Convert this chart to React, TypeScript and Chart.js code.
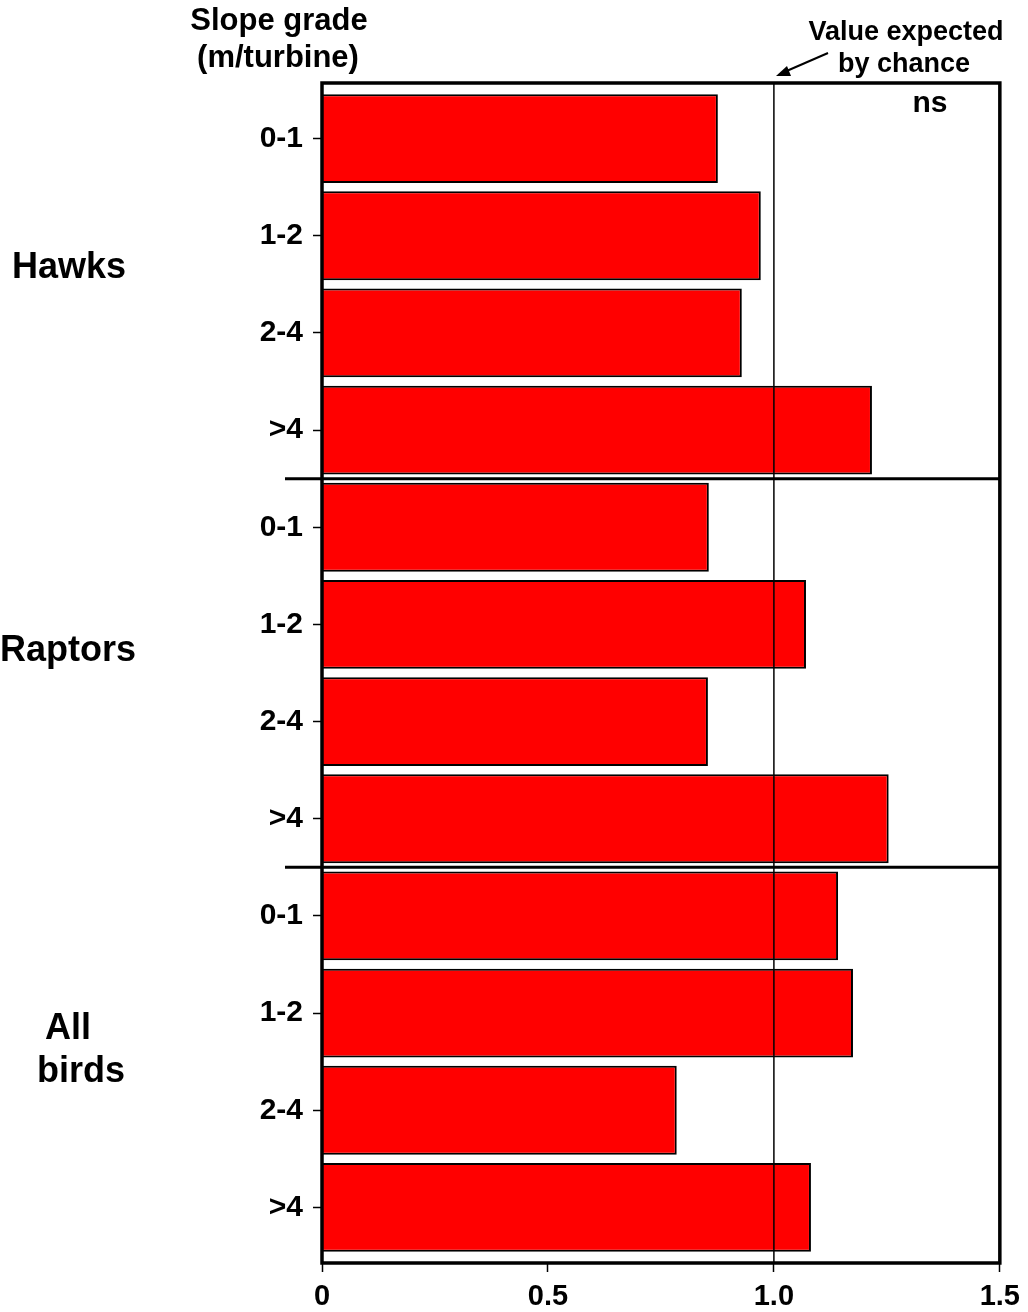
import React, { useEffect, useRef } from "react";
import { Chart, registerables } from "chart.js";

Chart.register(...registerables);

const slopeClasses = ["0-1", "1-2", "2-4", ">4"];
const groupNames = ["Hawks", "Raptors", "All birds"];
const hawks = [0.876, 0.971, 0.929, 1.217];
const raptors = [0.856, 1.071, 0.854, 1.254];
const allBirds = [1.142, 1.175, 0.785, 1.082];
const xTickValues = [0, 0.5, 1.0, 1.5];
const xTickLabels = ["0", "0.5", "1.0", "1.5"];
const chanceValue = 1.0;
const significance = "ns";

const FONT = '"Liberation Sans", Arial, Helvetica, sans-serif';

export default function App() {
  const ref = useRef<HTMLCanvasElement | null>(null);

  useEffect(() => {
    const canvas = ref.current;
    if (!canvas) return;
    const values = [...hawks, ...raptors, ...allBirds];
    const yLabels = [...slopeClasses, ...slopeClasses, ...slopeClasses];
    const data = values.map((v, i) => ({ x: v, y: i }));
    const nRows = values.length;
    const extra = 0.072;

    const decorations = {
      id: "decorations",
      afterDatasetsDraw(chart: any) {
        const { ctx, chartArea } = chart;
        const xs = chart.scales.x;
        const ys = chart.scales.y;
        ctx.save();
        const cx = xs.getPixelForValue(chanceValue);
        ctx.strokeStyle = "#000";
        ctx.lineWidth = 1.5;
        ctx.beginPath();
        ctx.moveTo(cx, chartArea.top);
        ctx.lineTo(cx, chartArea.bottom);
        ctx.stroke();
        ctx.lineWidth = 3;
        for (let g = 1; g < groupNames.length; g++) {
          const yy = ys.getPixelForValue(g * slopeClasses.length - 0.5);
          ctx.beginPath();
          ctx.moveTo(285, yy);
          ctx.lineTo(chartArea.right, yy);
          ctx.stroke();
        }
        ctx.lineWidth = 3.5;
        ctx.strokeRect(
          chartArea.left,
          chartArea.top,
          chartArea.right - chartArea.left,
          chartArea.bottom - chartArea.top
        );
        ctx.restore();
      },
      afterDraw(chart: any) {
        const { ctx } = chart;
        const ys = chart.scales.y;
        ctx.save();
        ctx.fillStyle = "#000";
        ctx.textAlign = "center";
        ctx.textBaseline = "middle";
        ctx.font = `bold 31px ${FONT}`;
        ctx.fillText("Slope grade", 279, 21);
        ctx.fillText("(m/turbine)", 278, 58);
        ctx.font = `bold 27px ${FONT}`;
        ctx.fillText("Value expected", 906, 33);
        ctx.fillText("by chance", 904, 65);
        ctx.font = `bold 30px ${FONT}`;
        ctx.fillText(significance, 930, 104);
        ctx.strokeStyle = "#000";
        ctx.lineWidth = 2;
        ctx.beginPath();
        ctx.moveTo(828, 53);
        ctx.lineTo(782, 73);
        ctx.stroke();
        ctx.beginPath();
        ctx.moveTo(776, 76);
        ctx.lineTo(787, 66);
        ctx.lineTo(791, 76);
        ctx.closePath();
        ctx.fill();
        ctx.font = `bold 36px ${FONT}`;
        const centers = groupNames.map((_, g) =>
          ys.getPixelForValue(g * slopeClasses.length + (slopeClasses.length - 1) / 2)
        );
        ctx.fillText(groupNames[0], 69, centers[0] - 16);
        ctx.fillText(groupNames[1], 68, centers[1] - 22);
        const parts = groupNames[2].split(" ");
        ctx.fillText(parts[0], 68, centers[2] - 33);
        ctx.fillText(parts[1], 81, centers[2] + 10);
        ctx.restore();
      },
    };

    const chart = new Chart(canvas, {
      type: "bar",
      data: {
        datasets: [
          {
            data,
            backgroundColor: "#ff0000",
            borderColor: "#000000",
            borderWidth: 2,
            barPercentage: 0.915,
            categoryPercentage: 1.0,
          } as any,
        ],
      },
      options: {
        indexAxis: "y",
        responsive: false,
        animation: false,
        devicePixelRatio: 1,
        layout: { padding: { top: 83, right: 28, left: 0, bottom: 0 } },
        plugins: {
          legend: { display: false },
          tooltip: { enabled: false },
        },
        scales: {
          x: {
            type: "linear",
            min: 0,
            max: 1.5,
            afterFit: (s: any) => {
              s.height = 49;
            },
            afterBuildTicks: (s: any) => {
              s.ticks = xTickValues.map((v) => ({ value: v }));
            },
            ticks: {
              color: "#000",
              font: { family: FONT, size: 29, weight: "bold" },
              padding: 8,
              maxRotation: 0,
              callback: (_v: any, i: number) => xTickLabels[i],
            },
            grid: {
              drawOnChartArea: false,
              drawTicks: true,
              tickLength: 9,
              tickWidth: 1.5,
              tickColor: "#000",
            },
            border: { display: false },
          },
          y: {
            type: "linear",
            reverse: true,
            offset: false,
            min: -0.5 - extra,
            max: nRows - 0.5 + extra,
            afterFit: (s: any) => {
              s.width = 322;
            },
            afterBuildTicks: (s: any) => {
              s.ticks = yLabels.map((_, i) => ({ value: i }));
            },
            ticks: {
              color: "#000",
              font: { family: FONT, size: 30, weight: "bold" },
              padding: 10,
              callback: (v: any) => yLabels[Math.round(Number(v))],
            },
            grid: {
              offset: false,
              drawOnChartArea: false,
              drawTicks: true,
              tickLength: 9,
              tickWidth: 1.5,
              tickColor: "#000",
            },
            border: { display: false },
          },
        },
      } as any,
      plugins: [decorations],
    });
    return () => chart.destroy();
  }, []);

  return (
    <div style={{ position: "absolute", left: 0, top: 0, width: 1028, height: 1312, background: "#fff" }}>
      <canvas ref={ref} width={1028} height={1312} style={{ display: "block" }} />
    </div>
  );
}
